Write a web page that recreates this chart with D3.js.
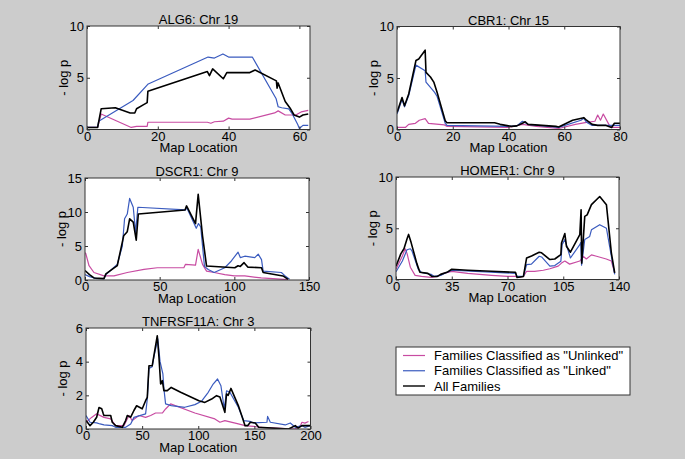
<!DOCTYPE html>
<html>
<head>
<meta charset="utf-8">
<script src="https://cdn.jsdelivr.net/npm/d3@7"></script>
<style>
  html, body { margin: 0; padding: 0; background: #cccccc; }
  svg { display: block; font-family: "Liberation Sans", Arial, sans-serif; }
</style>
</head>
<body>
<svg id="chart" width="685" height="459"></svg>
<script>
// ---------------- DATA ----------------
const seriesNames = ['Families Classified as "Unlinked"', 'Families Classified as "Linked"', 'All Families'];

// ALG6: Chr 19
const alg6Unlinked = [[0,0.2],[3,0.2],[4,1.5],[12.5,0.2],[14,0.3],[17,0.3],[17.2,0.7],[34,0.7],[35,0.6],[36,0.75],[38.5,0.8],[40,1.1],[41,1.0],[46,1.0],[53,1.6],[54,1.8],[56,1.4],[59,1.4],[60.5,1.7],[62.5,1.85]];
const alg6Linked = [[0,0.2],[3,0.2],[3.3,0.8],[13,2.8],[17.3,4.4],[34.2,7.0],[36,6.9],[38.4,7.3],[40,7.0],[46.7,7.0],[53.4,3.0],[54,2.2],[55,2.1],[57,2.0],[58,1.5],[59.5,0.5],[60,0.1],[61,0.4],[62.5,0.4]];
const alg6All = [[0,0.2],[3,0.2],[4,2.0],[8,2.1],[12.2,1.6],[13.5,1.6],[14,2.0],[16,2.4],[17,2.6],[17.2,3.7],[34,5.6],[34.6,5.2],[35.5,5.85],[38.5,4.9],[39.5,5.5],[46,5.5],[47.5,5.75],[53.5,4.7],[53.7,4.0],[54,4.5],[56,2.7],[57.5,2.0],[58.5,1.4],[60,1.2],[61,1.4],[62.5,1.5]];

// CBR1: Chr 15
const cbr1Unlinked = [[0,0.2],[3,0.2],[4.2,0.5],[6.6,0.6],[8,0.9],[10.1,1.05],[11.3,0.6],[17,0.45],[18,0.3],[40,0.2],[45,0.5],[50,0.3],[58,0.1],[64,0.5],[66,0.6],[68,0.7],[71,0.8],[72,1.4],[73,0.9],[74,1.5],[76,0.5],[77,0.2],[80,0.2]];
const cbr1Linked = [[0,1.5],[1.8,2.9],[2.7,2.2],[4.2,3.3],[6.8,6.25],[10.1,5.7],[10.4,4.6],[12.6,3.9],[13.5,3.6],[14.4,3.2],[17.3,0.6],[17.9,0.4],[40,0.3],[43,0.35],[45,0.8],[47,0.5],[58,0.2],[66,0.9],[67,1.1],[68,0.7],[70,0.4],[80,0.4]];
const cbr1All = [[0,1.65],[1.8,3.1],[2.7,2.3],[4.2,3.45],[6.8,6.7],[7.8,6.85],[10.1,7.7],[10.4,5.55],[12,5.1],[13.2,4.6],[14.4,3.6],[17.3,0.85],[17.9,0.65],[35,0.65],[37,0.5],[41,0.3],[43,0.35],[45,0.6],[46,0.75],[47,0.5],[57,0.3],[58,0.25],[63,0.9],[67,1.15],[68,0.9],[70,0.5],[72,0.4],[75,0.4],[77,0.2],[78,0.6],[80,0.6]];

// DSCR1: Chr 9
const dscr1Unlinked = [[0,4.0],[0.5,3.9],[2.7,2.1],[6,1.1],[12.7,0.6],[19.4,0.6],[28.3,1.1],[39.5,1.55],[48.4,1.8],[66.2,1.8],[67.3,2.3],[74,2.2],[75.8,4.5],[78.7,2.3],[81.4,1.3],[86.5,1.1],[93.6,0.8],[100,0.6],[107,0.6],[118,0.3],[136,0.05]];
const dscr1Linked = [[0,0.8],[3,0.5],[8,0.2],[12.7,0.2],[14,0.8],[21.6,2.3],[25,5.0],[26.5,9.0],[28.3,9.7],[29.9,12.0],[32.3,10.7],[33.9,7.0],[35.4,10.7],[67.3,10.3],[68,10.7],[74.5,7.6],[76,8.3],[77.5,7.8],[80,2.0],[82.5,1.55],[86.5,1.1],[93.6,1.8],[98,2.8],[102.5,4.1],[104,3.3],[107,3.5],[113.7,3.3],[116,3.8],[118.2,3.0],[119.3,1.3],[131.5,1.1],[134,0.6],[137,0.1]];
const dscr1All = [[0,1.4],[3,0.8],[6,0.3],[12.7,0.2],[14,0.9],[21.6,2.1],[25.9,6.5],[28.3,7.1],[29.9,9.0],[32.3,8.5],[34.3,5.85],[35.7,9.7],[67,10.3],[68,10.9],[74,8.3],[75.8,12.6],[78.7,6.5],[81.4,2.05],[100.3,1.8],[102.5,2.1],[104,2.0],[106.5,2.55],[109,1.9],[118.2,1.8],[119.3,1.1],[132.6,0.6],[136,0.1]];

// HOMER1: Chr 9
const homer1Unlinked = [[0,1.0],[4,2.3],[5.8,3.0],[7,2.5],[9,1.2],[12,0.4],[16,0.3],[22,0.2],[26,0.3],[30,0.6],[35,0.8],[45,0.6],[60,0.4],[70,0.3],[75,0.3],[77,0.2],[80,0.3],[82,0.8],[87,0.8],[92.5,0.9],[96.6,1.05],[101.8,1.3],[103.9,1.6],[106,1.8],[109,1.5],[115.4,1.8],[117.5,2.27],[119.5,2.0],[122.7,2.4],[125.9,2.27],[132,2.0],[135.2,1.8],[137.3,0.65]];
const homer1Linked = [[0,0.75],[4,1.8],[6.9,2.9],[9,3.0],[10,2.8],[14,1.0],[16,0.7],[22,0.5],[24,0.3],[28,0.4],[32,0.7],[35,0.9],[50,0.8],[75,0.6],[76,0.3],[80,0.3],[82,1.46],[85,1.5],[89.9,2.27],[91.4,2.2],[96.6,1.3],[99.7,1.36],[103.5,1.78],[104.3,3.4],[106,3.9],[109.5,2.1],[115.4,3.4],[116,3.6],[116.5,1.4],[118.5,3.9],[121.6,4.2],[122.7,4.85],[127.9,5.35],[132.1,5.0],[135.2,2.27],[137.3,0.5]];
const homer1All = [[0,1.3],[3,2.5],[5,3.0],[7,4.0],[7.9,4.4],[9.5,3.6],[13.1,1.55],[15,0.7],[20,0.6],[22.5,0.3],[26,0.3],[28,0.5],[32,0.7],[35,1.0],[45,0.9],[60,0.8],[75,0.7],[76,0.2],[80,0.3],[82,2.1],[85.1,2.3],[89.9,2.66],[91.4,2.6],[96.6,1.95],[99.7,2.0],[103.5,2.43],[103.9,3.56],[106,4.48],[107,3.25],[109.5,2.66],[115.4,4.38],[116.2,6.8],[116.6,1.6],[118.5,6.16],[120,6.3],[122.7,7.3],[127.9,8.1],[132.1,7.3],[135.2,2.6],[137.3,0.65]];

// TNFRSF11A: Chr 3
const tnfUnlinked = [[0,0.4],[5,0.69],[9.5,0.9],[16,0.69],[22,0.6],[26.4,0.2],[33.8,0.2],[38.3,0.8],[41.2,0.5],[47.2,0.8],[53.1,0.69],[57.6,0.8],[62,0.95],[68,0.95],[70.9,1.19],[75.4,1.49],[97,0.95],[114.8,0.6],[119.3,0.4],[123.7,0.5],[135.7,0.3],[141.7,0.2],[157,0.1],[186.4,0.0],[191,0.2],[192.4,0.4],[195,0.35],[198.2,0.45]];
const tnfLinked = [[0,0.8],[3.6,0.4],[9.5,0.36],[12.5,0.3],[16,0.25],[23.4,0.2],[26.4,0.1],[35.3,0.1],[39.8,0.3],[42.7,0.69],[53.1,0.9],[54.6,1.78],[56.1,3.6],[59,3.7],[60.5,4.3],[64,5.35],[66,4.0],[67,3.7],[68.5,3.27],[69.4,2.4],[70.9,1.49],[75.9,1.39],[88,1.29],[97,1.45],[103,1.65],[108.9,2.18],[113.3,2.67],[117.2,2.97],[120.2,2.57],[123.2,1.19],[125.2,2.27],[128.2,2.18],[135.7,1.29],[140.5,0.5],[146,0.45],[149.3,0.36],[161.2,0.4],[161.8,0.75],[164.2,0.4],[177.5,0.24],[182,0.36],[186.4,0.1],[192.4,0.2],[195,0.1],[199.8,0.2]];
const tnfAll = [[0,0.5],[3.6,0.2],[6.5,0.4],[9.5,0.7],[11.6,1.28],[14,1.2],[15.4,0.9],[16,0.8],[22,0.8],[23.4,0.4],[26.4,0.2],[32.3,0.1],[35.3,0.5],[36.8,0.8],[39.8,0.7],[42.7,1.1],[45.1,1.38],[50.1,1.2],[53.1,1.68],[54.6,1.88],[56.1,3.76],[59,3.76],[60.5,4.36],[63.5,5.54],[65,4.26],[66.5,2.67],[68,2.87],[69.4,2.28],[72.4,2.28],[75.9,2.47],[84.3,2.18],[100.6,1.68],[105.9,1.58],[111.9,1.78],[116.3,1.98],[119.3,1.9],[123.7,0.99],[125.2,2.08],[126.7,2.0],[129.1,2.41],[135.7,1.39],[138.7,0.8],[141.7,0.2],[144,0.2],[146.4,0.4],[150.8,0.36],[153.8,0.1],[180.5,0.0],[186.4,0.2],[189,0.05],[192.4,0.2],[199.8,0.2]];

// Titles and ticks
const titles = ["ALG6: Chr 19", "CBR1: Chr 15", "DSCR1: Chr 9", "HOMER1: Chr 9", "TNFRSF11A: Chr 3"];
const xDomains = [[0, 63], [0, 80], [0, 150], [0, 140], [0, 200]];
const yDomains = [[0, 10], [0, 10], [0, 15], [0, 10], [0, 6]];
const xTicks = [[0, 20, 40, 60], [0, 20, 40, 60, 80], [0, 50, 100, 150], [0, 35, 70, 105, 140], [0, 50, 100, 150, 200]];
const yTicks = [[0, 5, 10], [0, 5, 10], [0, 5, 10, 15], [0, 5, 10], [0, 2, 4, 6]];
const panelSeries = [
  [alg6Unlinked, alg6Linked, alg6All],
  [cbr1Unlinked, cbr1Linked, cbr1All],
  [dscr1Unlinked, dscr1Linked, dscr1All],
  [homer1Unlinked, homer1Linked, homer1All],
  [tnfUnlinked, tnfLinked, tnfAll]
];

// ---------------- STYLE / LAYOUT ----------------
const colors = ["#c84ca2", "#3a5bbf", "#000000"];
const widths = [1.2, 1.2, 1.6];
const boxes = [
  {x: 87, y: 26, w: 223, h: 103.5},
  {x: 397, y: 26.5, w: 223, h: 103},
  {x: 85, y: 178, w: 224, h: 102},
  {x: 396, y: 177, w: 223, h: 102.5},
  {x: 86, y: 328, w: 224.5, h: 101}
];
const axisColor = "#333333";
const fontSize = 13;

const svg = d3.select("#chart");
svg.append("rect").attr("width", 685).attr("height", 459).attr("fill", "#cccccc");

boxes.forEach((b, i) => {
  const g = svg.append("g").attr("transform", `translate(${b.x},${b.y})`);
  const x = d3.scaleLinear().domain(xDomains[i]).range([0, b.w]);
  const y = d3.scaleLinear().domain(yDomains[i]).range([b.h, 0]);

  g.append("rect").attr("width", b.w).attr("height", b.h).attr("fill", "#ffffff");

  const clipId = "clip" + i;
  g.append("clipPath").attr("id", clipId).append("rect").attr("width", b.w).attr("height", b.h);

  const line = d3.line().x(d => x(d[0])).y(d => y(d[1]));
  const lg = g.append("g").attr("clip-path", `url(#${clipId})`);
  panelSeries[i].forEach((s, k) => {
    lg.append("path").datum(s).attr("d", line)
      .attr("fill", "none").attr("stroke", colors[k]).attr("stroke-width", widths[k])
      .attr("stroke-linejoin", "round");
  });

  const styleAxis = sel => {
    sel.select(".domain").remove();
    sel.selectAll(".tick line").attr("stroke", axisColor);
    sel.selectAll("text").attr("fill", "#000").style("font-size", fontSize + "px")
      .style("font-family", '"Liberation Sans", Arial, sans-serif');
  };
  g.append("g").attr("transform", `translate(0,${b.h})`)
    .call(d3.axisBottom(x).tickValues(xTicks[i]).tickSizeInner(-3).tickSizeOuter(0).tickPadding(2).tickFormat(d3.format("d")))
    .call(styleAxis);
  g.append("g")
    .call(d3.axisTop(x).tickValues(xTicks[i]).tickSizeInner(-3).tickSizeOuter(0).tickFormat(""))
    .call(styleAxis);
  g.append("g")
    .call(d3.axisLeft(y).tickValues(yTicks[i]).tickSizeInner(-3).tickSizeOuter(0).tickPadding(3).tickFormat(d3.format("d")))
    .call(styleAxis);
  g.append("g").attr("transform", `translate(${b.w},0)`)
    .call(d3.axisRight(y).tickValues(yTicks[i]).tickSizeInner(-3).tickSizeOuter(0).tickFormat(""))
    .call(styleAxis);

  g.append("rect").attr("width", b.w).attr("height", b.h)
    .attr("fill", "none").attr("stroke", axisColor).attr("stroke-width", 1);

  g.append("text").attr("x", b.w / 2).attr("y", -2).attr("text-anchor", "middle")
    .style("font-size", fontSize + "px").text(titles[i]);
  g.append("text").attr("x", b.w / 2).attr("y", b.h + 22.5).attr("text-anchor", "middle")
    .style("font-size", fontSize + "px").text("Map Location");
  g.append("text").attr("transform", `translate(-19,${b.h / 2}) rotate(-90)`)
    .attr("text-anchor", "middle")
    .style("font-size", fontSize + "px").text("- log p");
});

// Legend
const leg = svg.append("g").attr("transform", "translate(396,347)");
leg.append("rect").attr("width", 234).attr("height", 48).attr("fill", "#ffffff")
  .attr("stroke", axisColor).attr("stroke-width", 1);
const legY = d3.scalePoint().domain(seriesNames).range([8.5, 39]);
seriesNames.forEach((n, k) => {
  leg.append("line").attr("x1", 7).attr("x2", 29).attr("y1", legY(n)).attr("y2", legY(n))
    .attr("stroke", colors[k]).attr("stroke-width", k === 2 ? 1.4 : 1.2);
  leg.append("text").attr("x", 38).attr("y", legY(n)).attr("dy", "0.36em")
    .style("font-size", fontSize + "px").text(n);
});
</script>
</body>
</html>
